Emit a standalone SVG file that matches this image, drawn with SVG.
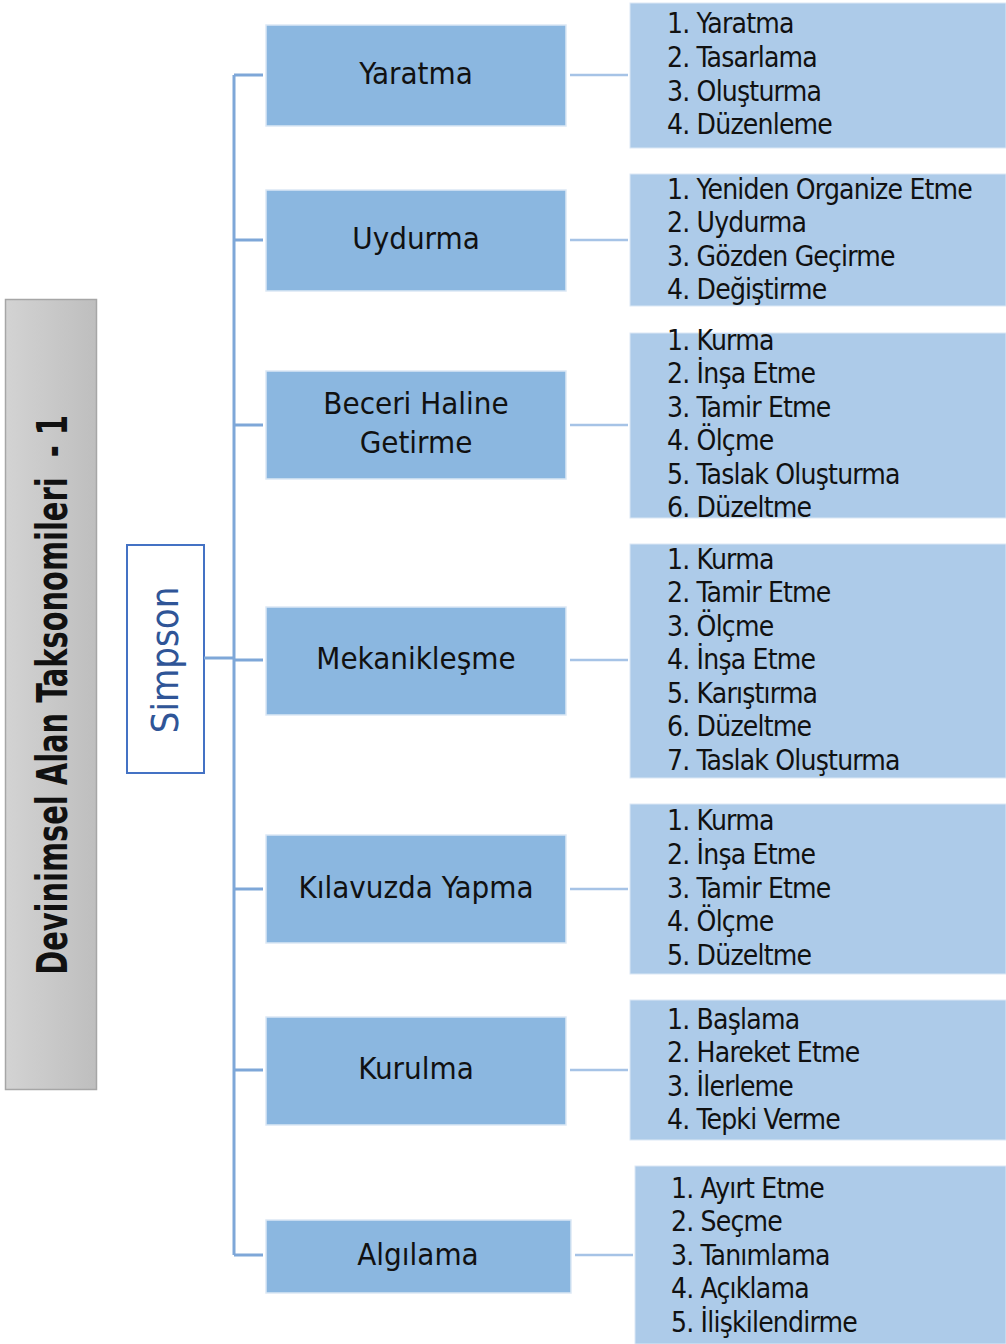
<svg xmlns="http://www.w3.org/2000/svg" width="1006" height="1344" viewBox="0 0 1006 1344">
<defs>
<linearGradient id="gr" x1="0" y1="0" x2="1" y2="0">
<stop offset="0" stop-color="#d3d3d3"/>
<stop offset="1" stop-color="#bebebe"/>
</linearGradient>
<style>
.t{font-family:"Liberation Sans Narrow","DejaVu Sans Condensed","Liberation Sans",sans-serif;fill:#111}
.node rect.n{fill:#8bb7e0;stroke:#dbe8f5;stroke-width:1.5}
.list rect{fill:#adcbe9;stroke:#dbe8f5;stroke-width:1}
.lbl{font-size:31px;text-anchor:middle}
.li{font-size:28px;letter-spacing:-0.8px}
.cl{stroke:#7ea7d8;stroke-width:3;fill:none}
.cr{stroke:#a6c3e6;stroke-width:2.5;fill:none}
</style>
</defs>
<rect width="1006" height="1344" fill="#fff"/>
<g id="title">
<rect x="5.5" y="299.5" width="91" height="790" fill="url(#gr)" stroke="#a6a6a6" stroke-width="1.5"/>
<text class="t" transform="translate(67,695) rotate(-90) scale(0.765,1)" text-anchor="middle" font-size="42" font-weight="bold" fill="#111" style="white-space:pre">Devinimsel Alan Taksonomileri  - 1</text>
</g>
<g id="simpson">
<rect x="127" y="545" width="77" height="228" fill="#fff" stroke="#4472c4" stroke-width="2"/>
<text class="t" transform="translate(178,660) rotate(-90)" text-anchor="middle" font-size="38" style="fill:#2f5597">Simpson</text>
</g>
<g id="connectors">
<path class="cl" d="M204,658 H234 M234,75 V1255 M234,75 H263 M234,240 H263 M234,425 H263 M234,660 H263 M234,889 H263 M234,1070 H263 M234,1255 H263"/>
<path class="cr" d="M570,75 H628 M570,240 H628 M570,425 H628 M570,660 H628 M570,889 H628 M570,1070 H628 M575,1255 H633"/>
</g>
<g id="n-yaratma" class="node"><rect class="n" x="266" y="25" width="300" height="101"/><text class="t lbl" x="416" y="84">Yaratma</text></g>
<g id="n-uydurma" class="node"><rect class="n" x="266" y="190" width="300" height="101"/><text class="t lbl" x="416" y="249">Uydurma</text></g>
<g id="n-beceri" class="node"><rect class="n" x="266" y="371" width="300" height="108"/><text class="t lbl" x="416" y="414">Beceri Haline</text><text class="t lbl" x="416" y="453">Getirme</text></g>
<g id="n-mek" class="node"><rect class="n" x="266" y="607" width="300" height="108"/><text class="t lbl" x="416" y="669">Mekanikleşme</text></g>
<g id="n-kil" class="node"><rect class="n" x="266" y="835" width="300" height="108"/><text class="t lbl" x="416" y="898">Kılavuzda Yapma</text></g>
<g id="n-kur" class="node"><rect class="n" x="266" y="1017" width="300" height="108"/><text class="t lbl" x="416" y="1079">Kurulma</text></g>
<g id="n-alg" class="node"><rect class="n" x="266" y="1220" width="305" height="73"/><text class="t lbl" x="418" y="1265">Algılama</text></g>
<g id="l-yaratma" class="list"><rect x="630" y="3" width="376" height="145"/>
<text class="t li" x="667" y="33">1. Yaratma</text><text class="t li" x="667" y="67">2. Tasarlama</text><text class="t li" x="667" y="101">3. Oluşturma</text><text class="t li" x="667" y="134">4. Düzenleme</text></g>
<g id="l-uydurma" class="list"><rect x="630" y="174" width="376" height="132"/>
<text class="t li" x="667" y="199">1. Yeniden Organize Etme</text><text class="t li" x="667" y="232">2. Uydurma</text><text class="t li" x="667" y="266">3. Gözden Geçirme</text><text class="t li" x="667" y="299">4. Değiştirme</text></g>
<g id="l-beceri" class="list"><rect x="630" y="333" width="376" height="185"/>
<text class="t li" x="667" y="350">1. Kurma</text><text class="t li" x="667" y="383">2. İnşa Etme</text><text class="t li" x="667" y="417">3. Tamir Etme</text><text class="t li" x="667" y="450">4. Ölçme</text><text class="t li" x="667" y="484">5. Taslak Oluşturma</text><text class="t li" x="667" y="517">6. Düzeltme</text></g>
<g id="l-mek" class="list"><rect x="630" y="544" width="376" height="234"/>
<text class="t li" x="667" y="569">1. Kurma</text><text class="t li" x="667" y="602">2. Tamir Etme</text><text class="t li" x="667" y="636">3. Ölçme</text><text class="t li" x="667" y="669">4. İnşa Etme</text><text class="t li" x="667" y="703">5. Karıştırma</text><text class="t li" x="667" y="736">6. Düzeltme</text><text class="t li" x="667" y="770">7. Taslak Oluşturma</text></g>
<g id="l-kil" class="list"><rect x="630" y="804" width="376" height="170"/>
<text class="t li" x="667" y="830">1. Kurma</text><text class="t li" x="667" y="864">2. İnşa Etme</text><text class="t li" x="667" y="898">3. Tamir Etme</text><text class="t li" x="667" y="931">4. Ölçme</text><text class="t li" x="667" y="965">5. Düzeltme</text></g>
<g id="l-kur" class="list"><rect x="630" y="1000" width="376" height="140"/>
<text class="t li" x="667" y="1029">1. Başlama</text><text class="t li" x="667" y="1062">2. Hareket Etme</text><text class="t li" x="667" y="1096">3. İlerleme</text><text class="t li" x="667" y="1129">4. Tepki Verme</text></g>
<g id="l-alg" class="list"><rect x="635" y="1166" width="371" height="178"/>
<text class="t li" x="671" y="1198">1. Ayırt Etme</text><text class="t li" x="671" y="1231">2. Seçme</text><text class="t li" x="671" y="1265">3. Tanımlama</text><text class="t li" x="671" y="1298">4. Açıklama</text><text class="t li" x="671" y="1332">5. İlişkilendirme</text></g>
</svg>
